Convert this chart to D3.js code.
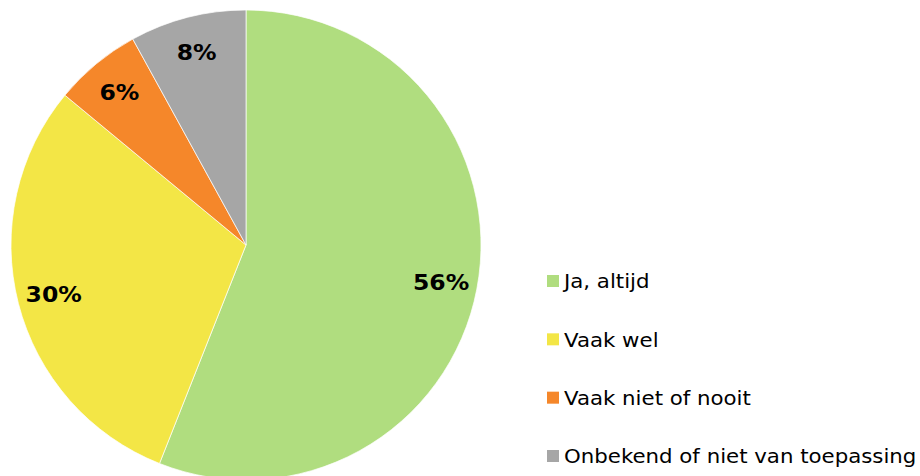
<!DOCTYPE html>
<html>
<head>
<meta charset="utf-8">
<script src="https://cdn.jsdelivr.net/npm/d3@7"></script>
<style>
  body { margin: 0; background: #fff; }
  svg { display: block; }
</style>
</head>
<body>
<div id="chart"></div>
<script>
// data
var categories = ["Ja, altijd", "Vaak wel", "Vaak niet of nooit", "Onbekend of niet van toepassing"];
var values = [56, 30, 6, 8];
var colors = ["#B0DD7F", "#F3E646", "#F5872A", "#A6A6A6"];

var width = 920, height = 476;
var cx = 246, cy = 245, radius = 235;

var svg = d3.select("#chart")
  .append("svg")
  .attr("width", width)
  .attr("height", height);

var data = categories.map(function (c, i) { return { name: c, value: values[i], color: colors[i] }; });

var pie = d3.pie()
  .sort(null)
  .value(function (d) { return d.value; });

var arc = d3.arc().innerRadius(0).outerRadius(radius);
var labelArc = d3.arc().innerRadius(radius * 0.845).outerRadius(radius * 0.845);

var g = svg.append("g")
  .attr("transform", "translate(" + cx + "," + cy + ")");

var arcs = pie(data);

// slices
g.selectAll("path.slice")
  .data(arcs)
  .enter()
  .append("path")
  .attr("class", "slice")
  .attr("d", arc)
  .style("fill", function (d) { return d.data.color; })
  .style("stroke", "#fff")
  .style("stroke-width", 0.7);

// percentage labels (DejaVu is narrower than Verdana, so stretch a bit)
g.selectAll("text.lbl")
  .data(arcs)
  .enter()
  .append("text")
  .attr("class", "lbl")
  .attr("transform", function (d) { return "translate(" + labelArc.centroid(d) + ") scale(1.12,1)"; })
  .attr("text-anchor", "middle")
  .attr("dy", "0.36em")
  .style("font-family", "'DejaVu Sans', Verdana, sans-serif")
  .style("font-weight", "bold")
  .style("font-size", "21px")
  .style("fill", "#000")
  .text(function (d) { return d.data.value + "%"; });

// legend
var legendY = d3.scalePoint()
  .domain(categories)
  .range([281, 456]);

var legend = svg.selectAll("g.legend")
  .data(data)
  .enter()
  .append("g")
  .attr("class", "legend")
  .attr("transform", function (d) { return "translate(547," + legendY(d.name) + ")"; });

legend.append("rect")
  .attr("x", 0)
  .attr("y", -6)
  .attr("width", 12)
  .attr("height", 12)
  .style("fill", function (d) { return d.color; });

legend.append("text")
  .attr("transform", "translate(17,0) scale(1.065,1)")
  .attr("dy", "0.36em")
  .style("font-family", "'DejaVu Sans', Verdana, sans-serif")
  .style("font-size", "20px")
  .style("fill", "#000")
  .text(function (d) { return d.name; });
</script>
</body>
</html>
